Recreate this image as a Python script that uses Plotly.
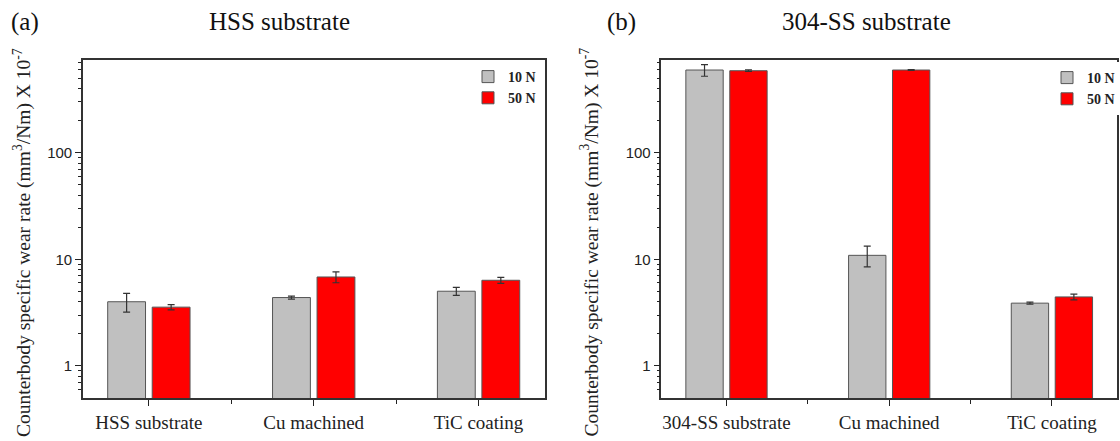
import plotly.graph_objects as go

# ---- data ----
cats_a = ["HSS substrate", "Cu machined", "TiC coating"]
cats_b = ["304-SS substrate", "Cu machined", "TiC coating"]
a_10N = [4.0, 4.38, 5.02]
a_10N_err = [0.8, 0.14, 0.43]
a_50N = [3.56, 6.83, 6.36]
a_50N_err = [0.2, 0.8, 0.4]
b_10N = [597, 10.9, 3.88]
b_10N_err = [75, 2.4, 0.08]
b_50N = [588, 597, 4.44]
b_50N_err = [10, 5, 0.27]
series_names = ["10 N", "50 N"]
y_major = [1, 10, 100]
y_minor = [0.6, 0.7, 0.8, 0.9, 2, 3, 4, 5, 6, 7, 8, 9,
           20, 30, 40, 50, 60, 70, 80, 90, 200, 300, 400, 500, 600, 700]

W, H = 1120, 441
GRAY = "#C0C0C0"
RED = "#FF0000"
EDGE = "#555555"
ERR = "#333333"
SERIF = "Liberation Serif, Times New Roman, serif"
SANS = "Liberation Sans, Arial, sans-serif"

def px_x(p):
    return p / W

def px_y(p):
    return 1 - p / H

fig = go.Figure()
xpos = [0, 1, 2]

def add_pair(vals10, err10, vals50, err50, xa, ya, legend):
    for name, vals, errs, col in [(series_names[0], vals10, err10, GRAY),
                                  (series_names[1], vals50, err50, RED)]:
        fig.add_trace(go.Bar(
            x=xpos, y=vals, name=name, xaxis=xa, yaxis=ya, legend=legend,
            legendgroup=legend + name,
            marker=dict(color=col, line=dict(color=EDGE, width=1)),
            error_y=dict(type="data", array=errs, visible=True,
                         color=ERR, thickness=1.2, width=3.5),
            offsetgroup=name,
        ))

add_pair(a_10N, a_10N_err, a_50N, a_50N_err, "x", "y", "legend")
add_pair(b_10N, b_10N_err, b_50N, b_50N_err, "x2", "y2", "legend2")

xl0, xl1 = px_x(83), px_x(545)
xr0, xr1 = px_x(662), px_x(1118)
yb, yt = px_y(398), px_y(60)

def xaxis(dom, cats, anchor):
    return dict(domain=[dom[0], dom[1]], anchor=anchor, range=[-0.4, 2.4],
                tickvals=xpos, ticktext=cats, ticks="outside", ticklen=6,
                tickwidth=1.3, tickcolor="#222",
                minor=dict(tickvals=[0.5, 1.5], ticks="outside", ticklen=4,
                           tickwidth=1.3, tickcolor="#222"),
                showline=True, linecolor="#333", linewidth=1.5, mirror=True,
                showgrid=False, zeroline=False,
                tickfont=dict(family=SERIF, size=19, color="#222"))

def yaxis(anchor):
    return dict(domain=[yb, yt], anchor=anchor, type="log",
                range=[-0.301, 2.87], tickvals=y_major,
                ticktext=[str(v) for v in y_major],
                ticks="outside", ticklen=6, tickwidth=1.3, tickcolor="#222",
                minor=dict(tickmode="array", tickvals=y_minor,
                           ticks="outside", ticklen=3, tickwidth=1,
                           tickcolor="#222", showgrid=False),
                showline=True, linecolor="#333", linewidth=1.5, mirror=True,
                showgrid=False, zeroline=False,
                tickfont=dict(family=SANS, size=15, color="#222"))

leg_common = dict(font=dict(family=SERIF, size=14, color="#222", weight="bold"),
                  bgcolor="white", borderwidth=0, traceorder="grouped",
                  tracegroupgap=0, xanchor="left", yanchor="top",
                  itemclick=False, itemdoubleclick=False)

fig.update_layout(
    width=W, height=H, margin=dict(l=0, r=0, t=0, b=0),
    paper_bgcolor="white", plot_bgcolor="white",
    barmode="group", bargap=0.46, bargroupgap=0.15,
    xaxis=xaxis((xl0, xl1), cats_a, "y"),
    yaxis=yaxis("x"),
    xaxis2=xaxis((xr0, xr1), cats_b, "y2"),
    yaxis2=yaxis("x2"),
    legend=dict(x=px_x(468), y=px_y(61), **leg_common),
    legend2=dict(x=px_x(1048), y=px_y(62), **leg_common),
    showlegend=True,
)

ytitle = "Counterbody specific wear rate (mm<sup>3</sup>/Nm) X 10<sup>-7</sup>"
annots = [
    dict(text="(a)", x=px_x(25), y=px_y(22)),
    dict(text="HSS substrate", x=px_x(280), y=px_y(22)),
    dict(text="(b)", x=px_x(622), y=px_y(22)),
    dict(text="304-SS substrate", x=px_x(867), y=px_y(22)),
]
for a in annots:
    fig.add_annotation(xref="paper", yref="paper", x=a["x"], y=a["y"],
                       text=a["text"], showarrow=False,
                       xanchor="center", yanchor="middle",
                       font=dict(family=SERIF, size=25, color="#111"))
for xc in [22, 590]:
    fig.add_annotation(xref="paper", yref="paper", x=px_x(xc), y=px_y(242),
                       text=ytitle, showarrow=False, textangle=-90,
                       xanchor="center", yanchor="middle",
                       font=dict(family=SERIF, size=19.5, color="#222"))

fig.write_html("out.html", config={"displayModeBar": False},
               post_script="document.body.style.margin='0';document.body.style.padding='0';")
